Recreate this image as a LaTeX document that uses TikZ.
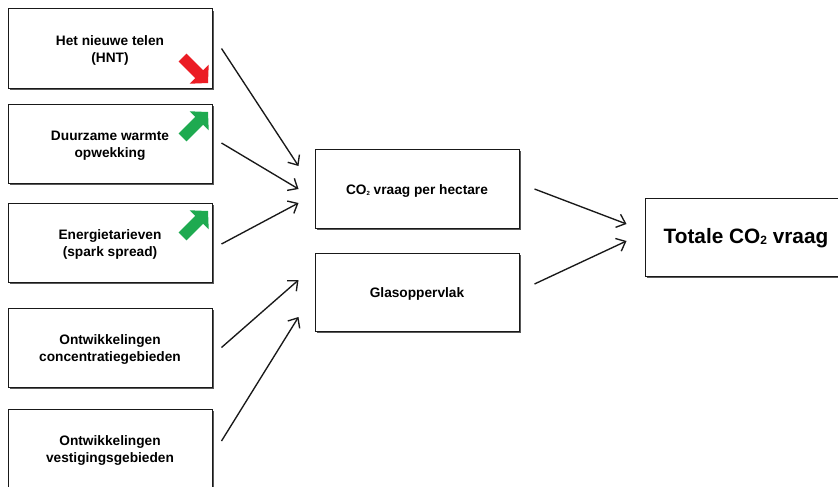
\documentclass[tikz,border=0pt]{standalone}
\usepackage{fontspec}
\setmainfont{Liberation Sans}
\usetikzlibrary{arrows.meta,calc,shadows}
\definecolor{upgreen}{RGB}{30,170,80}
\definecolor{downred}{RGB}{235,28,36}
\newcommand\lowtxt[2][2.5pt]{\raisebox{-#1}[\height][\depth]{\begin{tabular}{@{}c@{}}#2\end{tabular}}}
\begin{document}
\begin{tikzpicture}[x=1pt,y=-1pt,
  box/.style={draw=black!90, line width=1pt, fill=white,
    minimum width=204pt, minimum height=79pt, align=center, inner sep=0pt,
    font=\fontsize{13.7}{17}\selectfont\bfseries,
    drop shadow={shadow xshift=1.6pt, shadow yshift=-1.8pt, fill=black!65, opacity=1}},
  bigbox/.style={box, minimum width=202pt, minimum height=78pt,
    font=\fontsize{20.8}{24}\selectfont\bfseries},
  conn/.style={-{Straight Barb[length=8pt,width=14pt]}, line width=1.35pt, black!90}
]
\useasboundingbox (0,0) rectangle (838,487);
\clip (0,0) rectangle (838,487);
\fill[white] (0,0) rectangle (838,487);

% left column
\node[box] (b1) at (110,48.5) {\lowtxt{Het nieuwe telen\\(HNT)}};
\node[box] (b2) at (110,143.5) {\lowtxt{Duurzame warmte\\opwekking}};
\node[box] (b3) at (110,242.5) {\lowtxt{Energietarieven\\(spark spread)}};
\node[box] (b4) at (110,347.5) {\lowtxt{Ontwikkelingen\\concentratiegebieden}};
\node[box] (b5) at (110,448.5) {\lowtxt{Ontwikkelingen\\vestigingsgebieden}};

% middle column
\node[box] (mA) at (417,189) {\lowtxt{CO{\fontsize{6}{6}\selectfont\raisebox{-0.5pt}{2}} vraag per hectare}};
\node[box, minimum height=78pt] (mB) at (417,292) {\lowtxt{Glasoppervlak}};

% right
\node[bigbox] (tot) at (746,237) {\lowtxt[1.8pt]{Totale CO{\fontsize{12}{12}\selectfont\raisebox{-1pt}{2}} vraag}};

% trend arrows
\begin{scope}[shift={(208,83)}, rotate=-45]
  \fill[downred] (0,0) -- (-12.5,13.5) -- (-12.5,5.5) -- (-36,5.5) -- (-36,-5.5) -- (-12.5,-5.5) -- (-12.5,-13.5) -- cycle;
\end{scope}
\begin{scope}[shift={(208,112)}, rotate=45]
  \fill[upgreen] (0,0) -- (-12.5,13.5) -- (-12.5,5.5) -- (-36,5.5) -- (-36,-5.5) -- (-12.5,-5.5) -- (-12.5,-13.5) -- cycle;
\end{scope}
\begin{scope}[shift={(208,211)}, rotate=45]
  \fill[upgreen] (0,0) -- (-12.5,13.5) -- (-12.5,5.5) -- (-36,5.5) -- (-36,-5.5) -- (-12.5,-5.5) -- (-12.5,-13.5) -- cycle;
\end{scope}

% connectors
\draw[conn] ($(b1.east)+(9,0)$) -- ($(mA.west)+(-16,-23)$);
\draw[conn] ($(b2.east)+(9,-0.5)$) -- ($(mA.west)+(-16,0)$);
\draw[conn] ($(b3.east)+(9,1.5)$) -- ($(mA.west)+(-16,14)$);
\draw[conn] ($(b4.east)+(9,0)$) -- ($(mB.west)+(-16,-12)$);
\draw[conn] ($(b5.east)+(9,-7.5)$) -- ($(mB.west)+(-16,25)$);
\draw[conn] ($(mA.east)+(15,0)$) -- ($(tot.west)+(-18,-13)$);
\draw[conn] ($(mB.east)+(15,-8)$) -- ($(tot.west)+(-18,4)$);
\end{tikzpicture}
\end{document}
